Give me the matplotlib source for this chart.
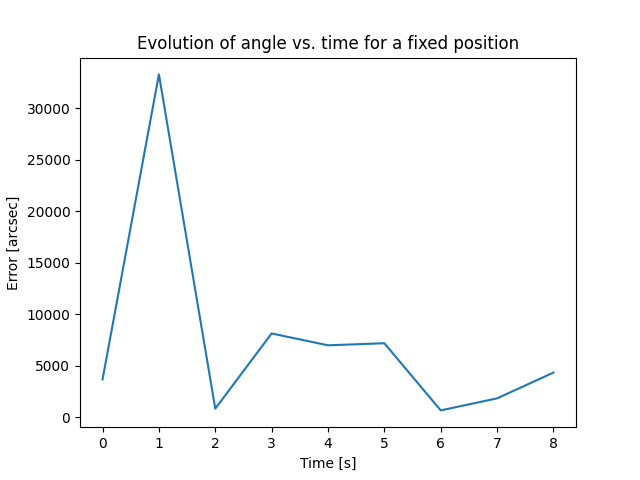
import matplotlib
matplotlib.use("Agg")
import matplotlib.pyplot as plt

time_s = [0, 1, 2, 3, 4, 5, 6, 7, 8]
error_arcsec = [3690, 33300, 850, 8150, 7000, 7200, 680, 1850, 4350]

fig, ax = plt.subplots(figsize=(6.4, 4.8), dpi=100)
ax.plot(time_s, error_arcsec)
ax.set_title("Evolution of angle vs. time for a fixed position")
ax.set_xlabel("Time [s]")
ax.set_ylabel("Error [arcsec]")
fig.savefig("out.png")
